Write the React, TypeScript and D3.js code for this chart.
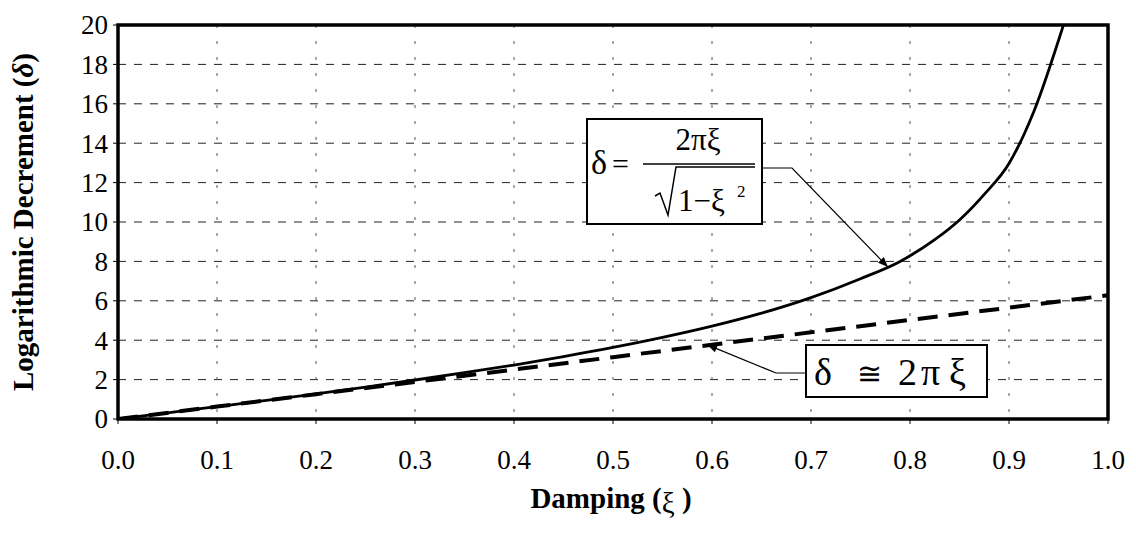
import React from "react";
import * as d3 from "d3";

// Damping ratio samples and the exact logarithmic decrement
const exactXi = [0, 0.05, 0.1, 0.15, 0.2, 0.25, 0.3, 0.35, 0.4, 0.45, 0.5, 0.55, 0.6, 0.65, 0.7, 0.75, 0.79, 0.825, 0.85, 0.875, 0.9, 0.925, 0.955];
const exactDelta = [0, 0.31, 0.63, 0.95, 1.28, 1.62, 1.98, 2.35, 2.74, 3.17, 3.63, 4.14, 4.71, 5.37, 6.16, 7.12, 8.0, 9.1, 10.1, 11.4, 12.97, 15.6, 20];

// Small-damping approximation
const approxXi = [0, 0.1, 0.2, 0.3, 0.4, 0.5, 0.6, 0.7, 0.8, 0.9, 1.0];
const approxDelta = [0, 0.63, 1.26, 1.88, 2.51, 3.14, 3.77, 4.4, 5.03, 5.65, 6.28];

const xTicks = [0, 0.1, 0.2, 0.3, 0.4, 0.5, 0.6, 0.7, 0.8, 0.9, 1.0];
const yTicks = [0, 2, 4, 6, 8, 10, 12, 14, 16, 18, 20];

const W = 1136;
const H = 535;
const left = 118, right = 1108, top = 25, bottom = 419;
const serif = "'Liberation Serif', 'Times New Roman', serif";

export default function App() {
  const x = d3.scaleLinear().domain([0, 1]).range([left, right]);
  const y = d3.scaleLinear().domain([0, 20]).range([bottom, top]);

  const line = d3
    .line<[number, number]>()
    .x((d) => x(d[0]))
    .y((d) => y(d[1]));
  const smooth = d3
    .line<[number, number]>()
    .x((d) => x(d[0]))
    .y((d) => y(d[1]))
    .curve(d3.curveMonotoneX);

  const exactPts = exactXi.map((v, i) => [v, exactDelta[i]] as [number, number]);
  const approxPts = approxXi.map((v, i) => [v, approxDelta[i]] as [number, number]);

  // annotation anchors in data space
  const tip1: [number, number] = [0.777, 7.75];
  const tip2: [number, number] = [0.596, 3.75];

  return (
    <svg width={W} height={H} style={{ position: "absolute", left: 0, top: 0, background: "#fff" }} fontFamily={serif}>
      <defs>
        <marker id="arr" viewBox="0 0 10 10" refX="9" refY="5" markerWidth="14" markerHeight="10" markerUnits="userSpaceOnUse" orient="auto">
          <path d="M0,1 L10,5 L0,9 z" fill="#000" />
        </marker>
        <clipPath id="plot">
          <rect x={left} y={top} width={right - left} height={bottom - top} />
        </clipPath>
      </defs>

      {/* gridlines */}
      {yTicks.slice(1, -1).map((t) => (
        <line key={"gy" + t} x1={left} x2={right} y1={y(t)} y2={y(t)} stroke="#222" strokeWidth={1} strokeDasharray="8,8" />
      ))}
      {xTicks.slice(1, -1).map((t) => (
        <line key={"gx" + t} x1={x(t)} x2={x(t)} y1={top} y2={bottom} stroke="#555" strokeWidth={1} strokeDasharray="3,13" />
      ))}

      {/* curves */}
      <g clipPath="url(#plot)">
        <path d={line(approxPts) || ""} fill="none" stroke="#000" strokeWidth={4} strokeDasharray="20,11" />
        <path d={smooth(exactPts) || ""} fill="none" stroke="#000" strokeWidth={2.8} strokeLinejoin="round" />
      </g>

      {/* frame */}
      <rect x={left} y={top} width={right - left} height={bottom - top} fill="none" stroke="#000" strokeWidth={3.5} />

      {/* ticks and labels */}
      {yTicks.map((t) => (
        <g key={"ty" + t}>
          <line x1={left - 5} x2={left} y1={y(t)} y2={y(t)} stroke="#000" strokeWidth={1} />
          <text x={left - 10} y={y(t)} dy="0.35em" textAnchor="end" fontSize={27}>
            {t}
          </text>
        </g>
      ))}
      {xTicks.map((t) => (
        <g key={"tx" + t}>
          <line x1={x(t)} x2={x(t)} y1={bottom} y2={bottom + 5} stroke="#000" strokeWidth={1} />
          <text x={x(t)} y={bottom + 50} textAnchor="middle" fontSize={27}>
            {t.toFixed(1)}
          </text>
        </g>
      ))}

      {/* axis titles */}
      <text x={611} y={508} textAnchor="middle" fontSize={29} fontWeight="bold">
        Damping (<tspan fontWeight="normal" dy="5">ξ</tspan>
        <tspan dy="-5"> )</tspan>
      </text>
      <text transform={`translate(33,${(top + bottom) / 2}) rotate(-90)`} textAnchor="middle" fontSize={29} fontWeight="bold">
        Logarithmic Decrement (<tspan fontStyle="italic">δ</tspan>)
      </text>

      {/* exact-formula callout */}
      <path d={`M762,168 L792,168 L${x(tip1[0])},${y(tip1[1])}`} fill="none" stroke="#000" strokeWidth={1.2} markerEnd="url(#arr)" />
      <rect x={587} y={119} width={175} height={105} fill="#fff" stroke="#000" strokeWidth={2} />
      <text x={591} y={174} fontSize={34}>δ</text>
      <text x={612} y={174} fontSize={30}>=</text>
      <text x={698} y={150} textAnchor="middle" fontSize={31}>2πξ</text>
      <line x1={643} x2={755} y1={164} y2={164} stroke="#000" strokeWidth={1.5} />
      <path d="M655,196 L660,193 L668,215 L676,167 L755,167" fill="none" stroke="#000" strokeWidth={1.5} />
      <text x={678} y={211} fontSize={31}>1−ξ</text>
      <text x={737} y={197} fontSize={17}>2</text>

      {/* approximation callout */}
      <path d={`M806,373 L776,373 L${x(tip2[0])},${y(tip2[1])}`} fill="none" stroke="#000" strokeWidth={1.2} markerEnd="url(#arr)" />
      <rect x={806} y={345} width={181} height={52} fill="#fff" stroke="#000" strokeWidth={2} />
      <text x={814} y={385} fontSize={38}>δ</text>
      <text x={857} y={384} fontSize={30}>≅</text>
      <text x={898} y={385} fontSize={38}>2</text>
      <text x={921} y={385} fontSize={38}>π</text>
      <text x={949} y={385} fontSize={38}>ξ</text>
    </svg>
  );
}
